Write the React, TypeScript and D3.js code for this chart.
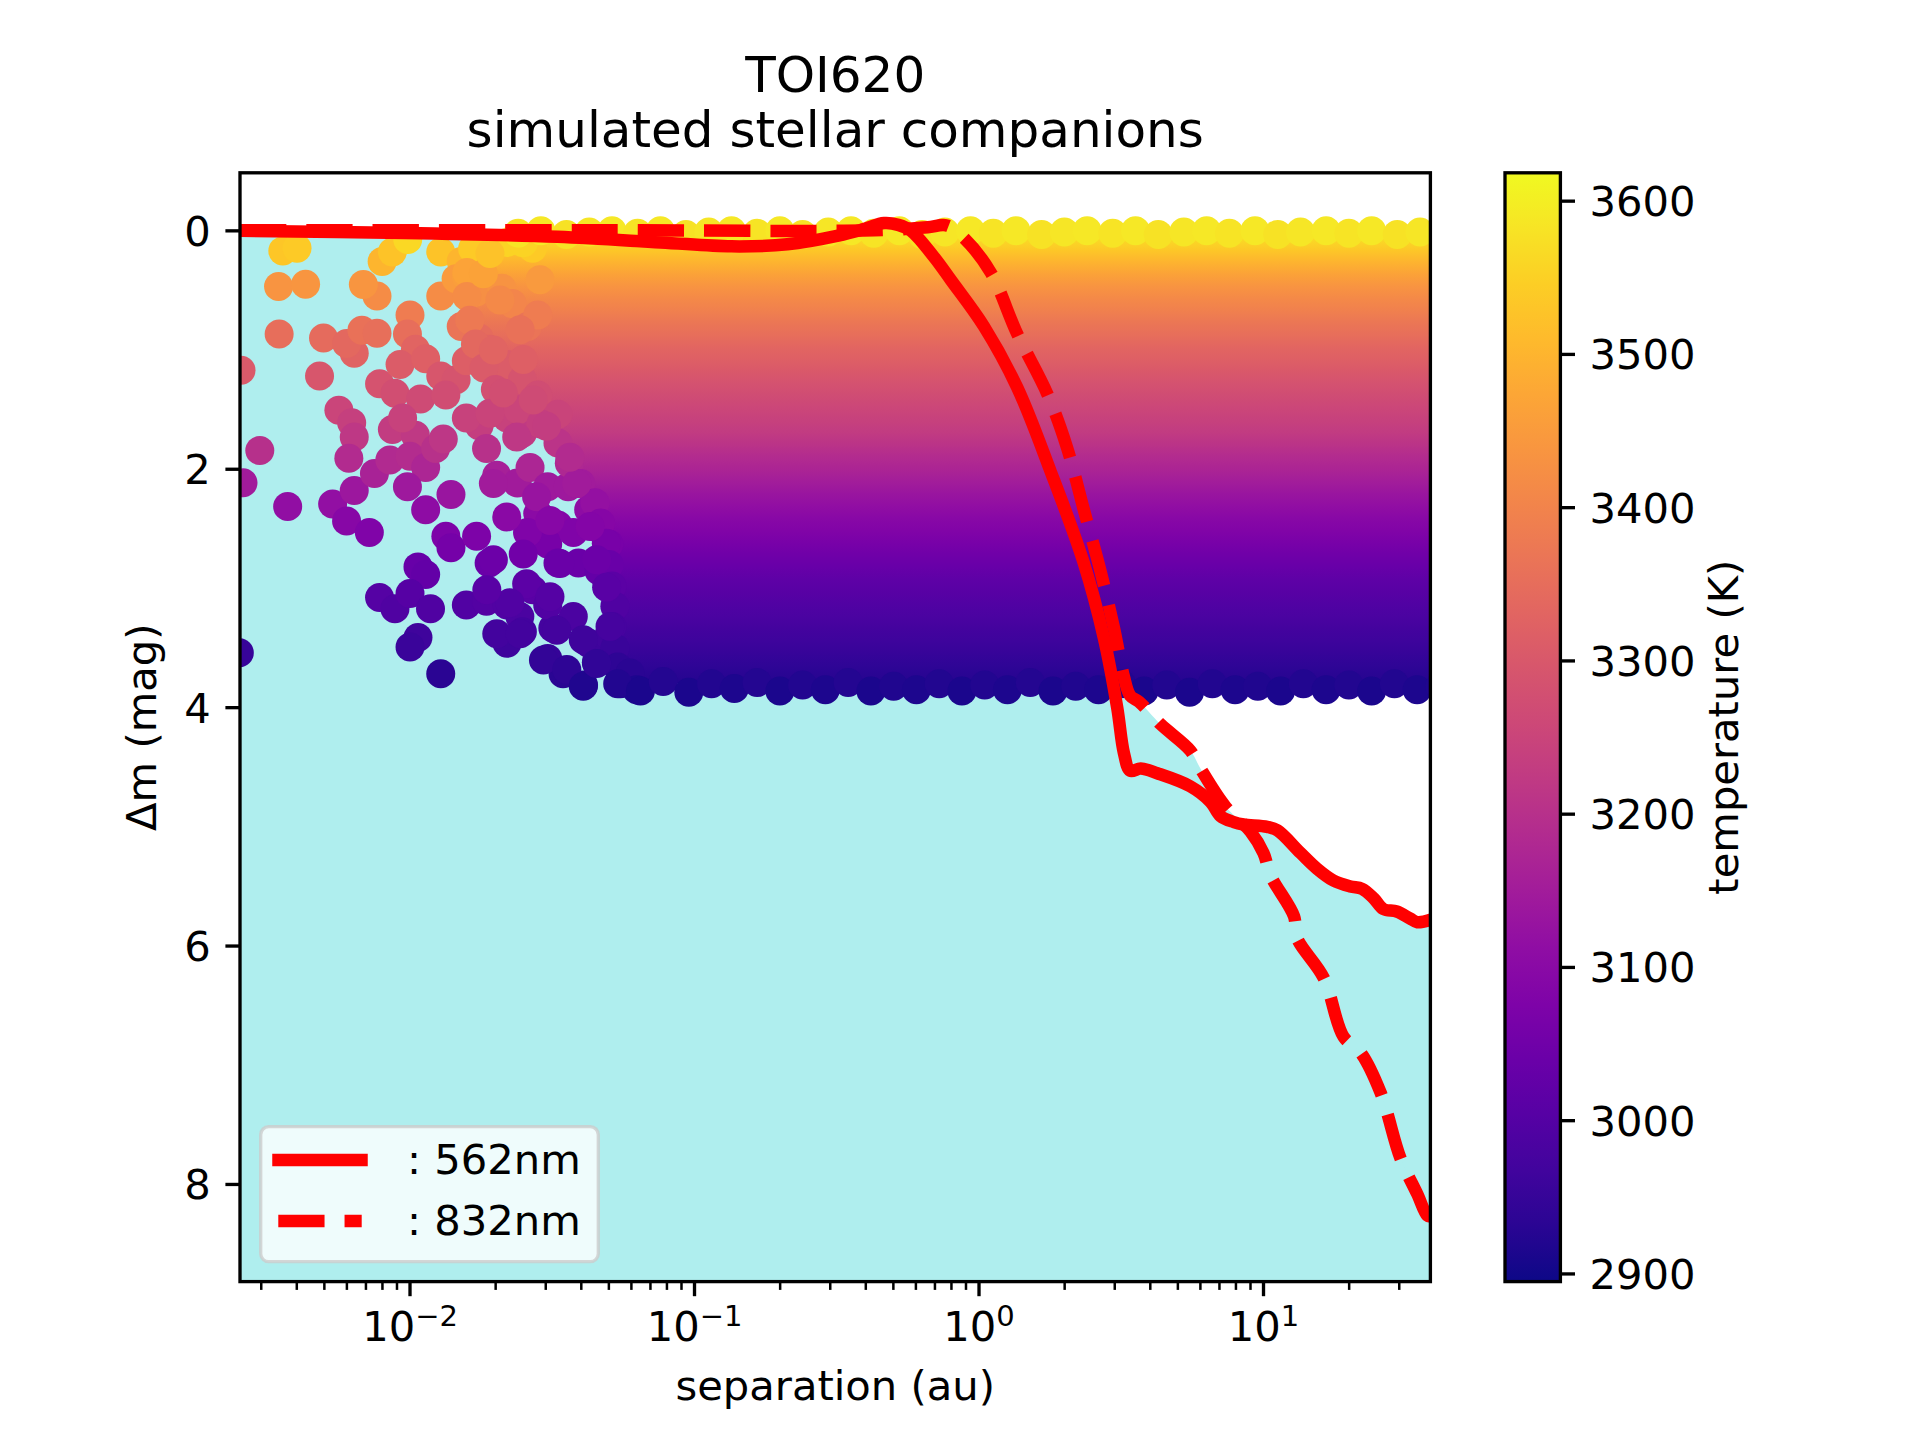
import React from "react";
import * as d3 from "d3";

// contrast curve, 562 nm: separation (au), delta mag
const sep562 = [0.00253, 0.0096, 0.033, 0.076, 0.135, 0.212, 0.32, 0.394, 0.464, 0.52, 0.575, 0.695, 0.795, 1.04, 1.36, 1.78, 2.33, 2.75, 3.06, 3.23, 3.4, 3.7, 4.23, 5.53, 6.51, 7.06, 7.86, 8.51, 10.3, 11.2, 13.5, 15.4, 17.6, 20.2, 22.2, 24.4, 26.4, 29.4, 32.8, 34.7, 38.6];
const dm562 = [0.0, 0.017, 0.05, 0.097, 0.13, 0.113, 0.04, -0.015, -0.065, -0.05, -0.003, 0.22, 0.41, 0.8, 1.31, 2.01, 2.78, 3.42, 4.0, 4.38, 4.53, 4.51, 4.55, 4.66, 4.79, 4.91, 4.96, 4.98, 5.0, 5.03, 5.22, 5.35, 5.45, 5.5, 5.52, 5.6, 5.69, 5.71, 5.77, 5.8, 5.78];

// contrast curve, 832 nm
const sep832 = [0.00253, 0.05, 0.3, 0.5, 0.66, 0.77, 0.885, 1.1, 1.36, 1.74, 2.04, 2.33, 2.67, 2.98, 3.23, 3.4, 3.65, 4.35, 5.53, 6.0, 7.35, 9.0, 10.0, 10.6, 12.8, 13.1, 16.3, 19.1, 21.9, 25.8, 30.3, 34.7, 37.6, 38.6];
const dm832 = [-0.005, -0.005, 0.0, -0.01, -0.03, -0.045, 0.06, 0.35, 0.86, 1.37, 1.82, 2.33, 2.85, 3.33, 3.74, 3.9, 3.95, 4.14, 4.36, 4.51, 4.83, 5.04, 5.22, 5.41, 5.75, 5.93, 6.27, 6.76, 6.89, 7.23, 7.78, 8.08, 8.26, 8.27];

// companion temperature as read against delta mag
const dmKnots = [-0.12, 0.0, 0.4, 0.9, 1.25, 1.7, 2.3, 2.95, 3.6, 3.95];
const tempKnots = [3615, 3590, 3450, 3345, 3290, 3225, 3115, 3015, 2945, 2900];
const tempTicks = [2900, 3000, 3100, 3200, 3300, 3400, 3500, 3600];

// outline of the dense part of the simulated cloud: [log10 sep, dm]
const cloudEdge: [number, number][] = [
  [-1.76, 0.03], [-1.78, 0.5], [-1.75, 1.0], [-1.68, 1.35], [-1.5, 1.68], [-1.42, 2.0], [-1.33, 2.3],
  [-1.3, 2.7], [-1.28, 3.0], [-1.27, 3.5], [-1.25, 3.8], [1.7, 3.8], [1.7, 0.03],
];

// companions along the left edge of the cloud: [log10 sep, dm]
const edgeStars: [number, number][] = [
  [-1.78, 0.15], [-1.8, 0.35], [-1.8, 0.55], [-1.79, 0.75], [-1.77, 0.95], [-1.74, 1.15], [-1.7, 1.33],
  [-1.62, 1.5], [-1.54, 1.62], [-1.48, 1.78], [-1.44, 1.95], [-1.4, 2.12], [-1.35, 2.28], [-1.33, 2.45],
  [-1.31, 2.62], [-1.3, 2.8], [-1.29, 2.98], [-1.28, 3.15], [-1.29, 3.32], [-1.28, 3.5], [-1.27, 3.66],
  [-1.26, 3.8], [-1.707, 2.12], [-1.66, 2.4], [-1.602, 2.71], [-1.707, 2.76], [-1.555, 2.23], [-1.508, 2.43],
  [-1.473, 2.79], [-1.59, 2.96], [-1.649, 3.12], [-1.73, 3.01], [-1.695, 3.38], [-1.613, 3.38], [-1.484, 3.35],
  [-1.508, 3.07], [-1.391, 3.43], [-1.531, 3.6], [-1.449, 3.68], [-1.391, 3.82], [-1.344, 3.63], [-1.297, 3.32],
  [-1.367, 2.48], [-1.344, 2.76], [-1.309, 2.99], [-1.414, 2.12], [-1.438, 1.9], [-1.52, 1.64], [-1.625, 1.73],
  [-1.719, 1.53], [-1.672, 1.36], [-1.567, 1.42], [-1.602, 1.08], [-1.707, 1.0], [-1.613, 0.83], [-1.684, 0.58],
  [-1.742, 0.36], [-1.602, 0.1], [-1.543, 0.41], [-1.719, 0.19], [-1.227, 3.71], [-1.203, 3.85],
];

// individual companions further in: [log10 sep, dm]
const sparseStars: [number, number][] = [
  [-2.447, 0.168], [-2.397, 0.145], [-2.462, 0.466], [-2.367, 0.449], [-2.46, 0.866], [-2.304, 0.898],
  [-2.318, 1.218], [-2.594, 1.17], [-2.196, 1.026], [-2.223, 0.946], [-2.169, 0.834], [-2.116, 0.859],
  [-2.116, 0.546], [-2.098, 0.257], [-2.062, 0.177], [-2.008, 0.072], [-2.164, 0.45], [-2.25, 1.506],
  [-2.205, 1.609], [-2.196, 1.73], [-2.528, 1.843], [-2.587, 2.114], [-2.43, 2.313], [-2.272, 2.291],
  [-2.196, 2.179], [-2.223, 2.435], [-2.143, 2.531], [-2.215, 1.907], [-2.125, 2.035], [-2.107, 1.282],
  [-2.053, 1.362], [-1.963, 1.41], [-2.062, 1.667], [-1.981, 1.715], [-2.026, 1.57], [-2.071, 1.922],
  [-2.0, 1.89], [-1.945, 1.986], [-1.91, 1.826], [-2.009, 2.147], [-1.945, 2.339], [-1.856, 2.211],
  [-1.874, 2.563], [-1.856, 2.659], [-1.766, 2.563], [-1.722, 2.787], [-1.972, 2.819], [-1.945, 2.883],
  [-2.107, 3.075], [-2.053, 3.171], [-2.0, 3.043], [-1.928, 3.171], [-1.972, 3.411], [-2.0, 3.491],
  [-1.892, 3.715], [-1.802, 3.139], [-1.731, 3.107], [-1.659, 3.139], [-1.614, 3.235], [-1.659, 3.459],
  [-1.605, 3.363], [-1.516, 3.587], [-1.462, 3.715], [-1.39, 3.811], [-1.345, 3.619], [-1.498, 3.331],
  [-1.426, 3.235], [-1.372, 3.459], [-1.301, 3.395], [-1.892, 0.177], [-1.82, 0.257], [-1.749, 0.289],
  [-1.767, 0.168], [-1.892, 0.546], [-1.838, 0.402], [-1.767, 0.514], [-2.0, 0.706], [-2.009, 0.866],
  [-1.981, 0.994], [-2.035, 1.122], [-1.945, 1.074], [-1.892, 1.218], [-1.838, 1.25], [-1.802, 1.09],
  [-1.82, 0.802], [-1.757, 0.898], [-1.722, 0.994], [-1.677, 0.482], [-1.641, 0.61], [-1.587, 0.802],
  [-1.551, 0.706], [-1.659, 1.122], [-1.605, 1.25], [-1.551, 1.378], [-1.48, 1.538], [-1.757, 1.634],
  [-1.731, 1.826], [-1.659, 1.57], [-1.605, 1.698], [-1.695, 2.051], [-1.623, 2.115], [-1.578, 1.986],
  [-1.516, 2.147], [-1.551, 2.371], [-1.48, 2.467], [-1.516, 2.627], [-1.48, 2.787], [-1.587, 2.531],
  [-1.569, 3.011], [-1.516, 3.139], [-1.372, 2.339], [-1.336, 2.499], [-1.301, 2.627], [-1.426, 2.531],
  [-1.408, 2.787], [-1.336, 2.851], [-1.444, 2.147], [-1.659, 0.097], [-1.569, 0.145], [-1.802, 0.385],
  [-1.883, 1.746], [-1.802, 1.57], [-1.874, 1.378], [-2.6, 3.54],
];

// upper row of the cloud: [log10 sep, dm]
const topRow: [number, number][] = [
  [-1.62, 0.02], [-1.54, 0.0], [-1.45, 0.03], [-1.37, 0.01], [-1.29, 0.0], [-1.2, 0.02], [-1.12, 0.0],
  [-1.03, 0.03], [-0.95, 0.01], [-0.87, 0.0], [-0.78, 0.02], [-0.7, 0.0], [-0.62, 0.03], [-0.53, 0.01],
  [-0.45, 0.0], [-0.37, 0.02], [-0.28, 0.0], [-0.2, 0.03], [-0.12, 0.01], [-0.03, 0.0], [0.05, 0.02],
  [0.13, 0.0], [0.22, 0.03], [0.3, 0.01], [0.38, 0.0], [0.47, 0.02], [0.55, 0.0], [0.63, 0.03],
  [0.72, 0.01], [0.8, 0.0], [0.88, 0.02], [0.97, 0.0], [1.05, 0.03], [1.13, 0.01], [1.22, 0.0],
  [1.3, 0.02], [1.38, 0.0], [1.47, 0.03], [1.55, 0.01], [1.62, 0.0],
];

// lower row of the cloud: [log10 sep, dm]
const bottomRow: [number, number][] = [
  [-1.27, 3.8], [-1.19, 3.86], [-1.11, 3.78], [-1.02, 3.87], [-0.94, 3.8], [-0.86, 3.84], [-0.78, 3.79],
  [-0.7, 3.86], [-0.62, 3.81], [-0.54, 3.85], [-0.46, 3.79], [-0.38, 3.86], [-0.3, 3.82], [-0.22, 3.85],
  [-0.14, 3.8], [-0.06, 3.86], [0.02, 3.81], [0.1, 3.85], [0.18, 3.79], [0.26, 3.86], [0.34, 3.82],
  [0.42, 3.85], [0.5, 3.8], [0.58, 3.86], [0.66, 3.81], [0.74, 3.87], [0.82, 3.8], [0.9, 3.85],
  [0.98, 3.82], [1.06, 3.86], [1.14, 3.8], [1.22, 3.85], [1.3, 3.81], [1.38, 3.86], [1.46, 3.8],
  [1.54, 3.85], [1.62, 3.82],
];

const FONT = "DejaVu Sans, sans-serif";
const FS = 41.67;
const LW = 12.5;

export default function App() {
  const left = 240, right = 1430.4, top = 172.8, bottom = 1281.6;
  const x = d3.scaleLog().domain([0.002526, 38.6]).range([left, right]);
  const y = d3.scaleLinear().domain([-0.487, 8.815]).range([top, bottom]);
  const tempOfDm = d3.scaleLinear().domain(dmKnots).range(tempKnots).clamp(true);
  const color = d3.scaleSequential(d3.interpolatePlasma).domain([2895, 3618.5]);
  const dotColor = (dm: number) => color(tempOfDm(dm));

  const pts562 = sep562.map((s, i) => [s, dm562[i]] as [number, number]);
  const pts832 = sep832.map((s, i) => [s, dm832[i]] as [number, number]);
  const curve = d3.curveCatmullRom.alpha(0.5);
  const line = d3.line<[number, number]>().x((d) => x(d[0])).y((d) => y(d[1])).curve(curve);
  const area = d3.area<[number, number]>().x((d) => x(d[0])).y0(bottom).y1((d) => y(d[1])).curve(curve);
  const cloud = d3.line<[number, number]>().x((d) => x(Math.pow(10, d[0]))).y((d) => y(d[1]));

  const r = 14.5;
  const allDots = [...sparseStars, ...edgeStars, ...topRow, ...bottomRow];

  // gradient stops along dm for the cloud body
  const gy0 = y(-0.15), gy1 = y(3.95);
  const stopDm = d3.range(0, 41).map((i) => -0.15 + (i / 40) * 4.1);

  // colorbar
  const cbX0 = 1505, cbX1 = 1560.4;
  const cb = d3.scaleLinear().domain([2895, 3618.5]).range([bottom, top]);
  const cbStops = d3.range(0, 21).map((i) => i / 20);

  const xMinor = x.ticks().filter((t) => {
    const l = Math.log10(t);
    return Math.abs(l - Math.round(l)) > 1e-6;
  });
  const xMajor = [-2, -1, 0, 1];
  const yTicks = [0, 2, 4, 6, 8];
  const cy = (top + bottom) / 2;
  const cx = (left + right) / 2;

  return (
    <svg width={1920} height={1440} viewBox="0 0 1920 1440"
      style={{ position: "absolute", left: 0, top: 0, background: "#fff" }} fontFamily={FONT}>
      <defs>
        <clipPath id="plotClip"><rect x={left} y={top} width={right - left} height={bottom - top} /></clipPath>
        <linearGradient id="cloudGrad" gradientUnits="userSpaceOnUse" x1={0} x2={0} y1={gy0} y2={gy1}>
          {stopDm.map((d, i) => (
            <stop key={i} offset={(y(d) - gy0) / (gy1 - gy0)} stopColor={dotColor(d)} />
          ))}
        </linearGradient>
        <linearGradient id="cbGrad" x1={0} x2={0} y1={1} y2={0}>
          {cbStops.map((t, i) => <stop key={i} offset={t} stopColor={d3.interpolatePlasma(t)} />)}
        </linearGradient>
      </defs>

      <g clipPath="url(#plotClip)">
        <path d={area(pts562)!} fill="#afeeee" />
        <path d={area(pts832)!} fill="#afeeee" />
        <path d={cloud(cloudEdge)!} fill="url(#cloudGrad)" />
        {allDots.map((d, i) => (
          <circle key={i} cx={x(Math.pow(10, d[0]))} cy={y(d[1])} r={r} fill={dotColor(d[1])} />
        ))}
        <path d={line(pts562)!} fill="none" stroke="#ff0000" strokeWidth={LW} strokeLinejoin="round" strokeLinecap="square" />
        <path d={line(pts832)!} fill="none" stroke="#ff0000" strokeWidth={LW} strokeLinejoin="round" strokeDasharray="46.25 20" />
      </g>

      {/* legend */}
      <g>
        <rect x={260.7} y={1126.7} width={337.6} height={135} rx={8} fill="#ffffff" fillOpacity={0.8} stroke="#cccccc" strokeOpacity={0.8} strokeWidth={3.33} />
        <line x1={278.5} x2={361.5} y1={1160} y2={1160} stroke="#ff0000" strokeWidth={LW} strokeLinecap="square" />
        <line x1={278.3} x2={361.7} y1={1221} y2={1221} stroke="#ff0000" strokeWidth={LW} strokeDasharray="46.25 20" />
        <text x={407} y={1174} fontSize={FS}>: 562nm</text>
        <text x={407} y={1235} fontSize={FS}>: 832nm</text>
      </g>

      {/* frame */}
      <rect x={left} y={top} width={right - left} height={bottom - top} fill="none" stroke="#000" strokeWidth={3.33} />

      {/* x axis */}
      {xMinor.map((t, i) => (
        <line key={i} x1={x(t)} x2={x(t)} y1={bottom} y2={bottom + 8.3} stroke="#000" strokeWidth={2.5} />
      ))}
      {xMajor.map((e) => (
        <g key={e}>
          <line x1={x(Math.pow(10, e))} x2={x(Math.pow(10, e))} y1={bottom} y2={bottom + 14.6} stroke="#000" strokeWidth={3.33} />
          <text x={x(Math.pow(10, e))} y={1341} fontSize={FS} textAnchor="middle">
            10<tspan fontSize={29} dy={-15}>{e < 0 ? `\u2212${-e}` : `${e}`}</tspan>
          </text>
        </g>
      ))}
      <text x={cx} y={1400} fontSize={FS} textAnchor="middle">separation (au)</text>

      {/* y axis */}
      {yTicks.map((t) => (
        <g key={t}>
          <line x1={left - 14.6} x2={left} y1={y(t)} y2={y(t)} stroke="#000" strokeWidth={3.33} />
          <text x={left - 29.2} y={y(t)} dy="0.36em" fontSize={FS} textAnchor="end">{t}</text>
        </g>
      ))}
      <text transform={`translate(156,${cy}) rotate(-90)`} fontSize={FS} textAnchor="middle">Δm (mag)</text>

      {/* title */}
      <text x={cx} y={91.7} fontSize={50} textAnchor="middle">TOI620</text>
      <text x={cx} y={146.7} fontSize={50} textAnchor="middle">simulated stellar companions</text>

      {/* colorbar */}
      <rect x={cbX0} y={top} width={cbX1 - cbX0} height={bottom - top} fill="url(#cbGrad)" stroke="#000" strokeWidth={3.33} />
      {tempTicks.map((t) => (
        <g key={t}>
          <line x1={cbX1} x2={cbX1 + 14.6} y1={cb(t)} y2={cb(t)} stroke="#000" strokeWidth={3.33} />
          <text x={cbX1 + 29.2} y={cb(t)} dy="0.36em" fontSize={FS}>{t}</text>
        </g>
      ))}
      <text transform={`translate(1738,${cy}) rotate(-90)`} fontSize={FS} textAnchor="middle">temperature (K)</text>
    </svg>
  );
}
